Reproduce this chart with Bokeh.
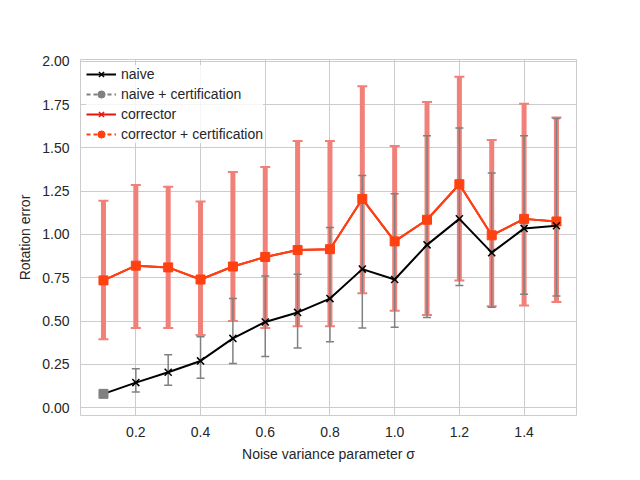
from bokeh.plotting import figure
from bokeh.models import Whisker, TeeHead, ColumnDataSource, Legend, LegendItem, Range1d
from bokeh.embed import file_html
from bokeh.resources import INLINE

sigma = [0.1, 0.2, 0.3, 0.4, 0.5, 0.6, 0.7, 0.8, 0.9, 1.0, 1.1, 1.2, 1.3, 1.4, 1.5]
naive = [0.08, 0.145, 0.205, 0.27, 0.40, 0.495, 0.55, 0.63, 0.80, 0.74, 0.94, 1.09, 0.895, 1.035, 1.05]
naive_lo = [0.06, 0.09, 0.13, 0.17, 0.255, 0.295, 0.345, 0.38, 0.46, 0.465, 0.52, 0.705, 0.58, 0.655, 0.645]
naive_hi = [0.10, 0.225, 0.305, 0.41, 0.63, 0.76, 0.77, 1.04, 1.34, 1.235, 1.57, 1.615, 1.355, 1.57, 1.67]
corr = [0.735, 0.82, 0.81, 0.74, 0.815, 0.87, 0.91, 0.915, 1.205, 0.96, 1.085, 1.29, 0.995, 1.09, 1.075]
corr_lo = [0.395, 0.46, 0.46, 0.42, 0.50, 0.46, 0.47, 0.47, 0.66, 0.56, 0.535, 0.735, 0.585, 0.59, 0.61]
corr_hi = [1.195, 1.285, 1.275, 1.19, 1.36, 1.39, 1.54, 1.54, 1.855, 1.51, 1.765, 1.91, 1.545, 1.755, 1.675]
cert_x = [0.1]
cert_y = [0.08]

FONT = "Liberation Sans"
p = figure(width=624, height=464, output_backend="svg", toolbar_location=None,
           x_range=Range1d(0.029, 1.562), y_range=Range1d(-0.045, 2.01),
           min_border_left=80, min_border_right=48, min_border_top=59, min_border_bottom=36)
p.outline_line_color = "#cccccc"
p.background_fill_color = "white"
p.grid.grid_line_color = "#cccccc"
p.xaxis.ticker = [0.2, 0.4, 0.6, 0.8, 1.0, 1.2, 1.4]
p.yaxis.ticker = [0, 0.25, 0.5, 0.75, 1.0, 1.25, 1.5, 1.75, 2.0]
p.yaxis.major_label_overrides = {0: "0.00", 0.25: "0.25", 0.5: "0.50", 0.75: "0.75", 1.0: "1.00",
                                 1.25: "1.25", 1.5: "1.50", 1.75: "1.75", 2.0: "2.00"}
p.xaxis.major_label_overrides = {1.0: "1.0"}
for ax in (p.xaxis, p.yaxis):
    ax.axis_line_color = None
    ax.major_tick_line_color = None
    ax.minor_tick_line_color = None
    ax.major_label_text_font = FONT
    ax.major_label_text_font_size = "10.5pt"
    ax.major_label_text_color = "#262626"
    ax.axis_label_text_font = FONT
    ax.axis_label_text_font_size = "10.5pt"
    ax.axis_label_text_font_style = "normal"
    ax.axis_label_text_color = "#262626"
    ax.axis_label_standoff = 6
p.xaxis.axis_label = "Noise variance parameter σ"
p.yaxis.axis_label = "Rotation error"

src_c = ColumnDataSource(dict(x=sigma, y=corr, lo=corr_lo, hi=corr_hi))
src_n = ColumnDataSource(dict(x=sigma, y=naive, lo=naive_lo, hi=naive_hi))

salmon = "#f08078"
p.add_layout(Whisker(source=src_c, base="x", lower="lo", upper="hi", line_color=salmon, line_width=5,
                     upper_head=TeeHead(size=10, line_color=salmon, line_width=2),
                     lower_head=TeeHead(size=10, line_color=salmon, line_width=2)))
r_corr = p.line("x", "y", source=src_c, line_color="#e8140a", line_width=2)
r_corr_x = p.scatter("x", "y", source=src_c, marker="x", size=9, line_color="#e8140a", line_width=1.5)
p.line("x", "y", source=src_c, line_color="#ff4010", line_width=2)
p.scatter("x", "y", source=src_c, marker="square", size=9, fill_color="#ff4010", line_color="#ff4010")

p.add_layout(Whisker(source=src_n, base="x", lower="lo", upper="hi", line_color="#808080", line_width=1.5,
                     upper_head=TeeHead(size=8, line_color="#808080", line_width=1.5),
                     lower_head=TeeHead(size=8, line_color="#808080", line_width=1.5)))
r_naive = p.line("x", "y", source=src_n, line_color="black", line_width=2)
r_naive_x = p.scatter("x", "y", source=src_n, marker="x", size=10, line_color="black", line_width=1.5)
p.scatter(cert_x, cert_y, marker="square", size=9, fill_color="#808080", line_color="#808080")

# legend-only renderers (off-screen points)
nan = float("nan")
l_cert = p.line([nan], [nan], line_color="#808080", line_width=2, line_dash="4 3")
l_cert_m = p.scatter([nan], [nan], marker="circle", size=9, fill_color="#808080", line_color="#808080")
l_cc = p.line([nan], [nan], line_color="#ff4010", line_width=2, line_dash="4 3")
l_cc_m = p.scatter([nan], [nan], marker="circle", size=9, fill_color="#ff4010", line_color="#ff4010")

legend = Legend(items=[
    LegendItem(label="naive", renderers=[r_naive, r_naive_x]),
    LegendItem(label="naive + certification", renderers=[l_cert, l_cert_m]),
    LegendItem(label="corrector", renderers=[r_corr, r_corr_x]),
    LegendItem(label="corrector + certification", renderers=[l_cc, l_cc_m]),
], location="top_left")
legend.border_line_color = None
legend.background_fill_alpha = 0.8
legend.label_text_font = FONT
legend.label_text_font_size = "10.5pt"
legend.label_text_color = "#262626"
legend.glyph_width = 30
legend.spacing = 2
legend.label_height = 18
legend.glyph_height = 18
legend.margin = 6
legend.padding = 4
p.add_layout(legend)

open("out.html", "w").write(file_html(p, INLINE))
